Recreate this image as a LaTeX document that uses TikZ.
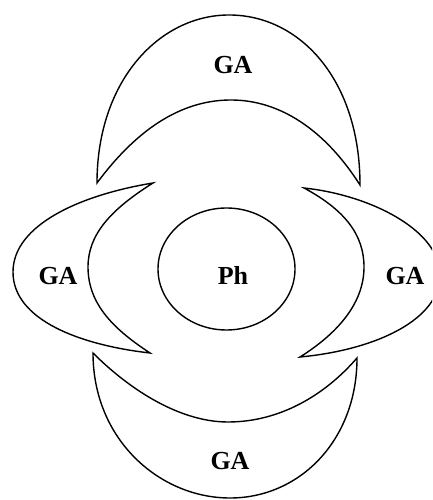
\documentclass[tikz,border=0pt]{standalone}
\usepackage{fontspec}
\setmainfont{Liberation Serif}
\usetikzlibrary{shapes.geometric}
\begin{document}
\begin{tikzpicture}[x=1pt,y=1pt,
  crescent/.style={draw=black,line width=1.4pt,line join=miter},
  lbl/.style={font=\fontsize{26}{30}\selectfont\bfseries,inner sep=0pt,text=black}]
\clip (0,0) rectangle (432,500);
% top crescent
\draw[crescent] (97,317) .. controls (97,420) and (160,485) .. (229,485)
  .. controls (300,485) and (360,420) .. (360,315)
  .. controls (325,370) and (280,400) .. (231,400)
  .. controls (185,400) and (140,375) .. (97,317) -- cycle;
% left crescent
\draw[crescent] (153,317) .. controls (80,305) and (13,275) .. (13,228)
  .. controls (13,180) and (80,155) .. (150,147)
  .. controls (115,170) and (88,195) .. (88,233)
  .. controls (88,265) and (110,290) .. (153,317) -- cycle;
% right crescent
\draw[crescent] (304,312) .. controls (370,305) and (440,270) .. (440,225)
  .. controls (440,180) and (375,150) .. (300,143)
  .. controls (335,165) and (364,195) .. (364,233)
  .. controls (364,265) and (345,290) .. (304,312) -- cycle;
% bottom crescent
\draw[crescent] (93,147) .. controls (93,60) and (160,2) .. (230,2)
  .. controls (300,2) and (357,60) .. (357,142)
  .. controls (325,105) and (280,78) .. (228,78)
  .. controls (180,78) and (130,110) .. (93,147) -- cycle;
% centre
\node[draw=black,line width=1.4pt,ellipse,minimum width=137pt,minimum height=122pt,inner sep=0pt] (ph) at (226.5,231) {};
\node[lbl] (phl) at (233,225) {Ph};
\node[lbl] (gat) at (233,435) {GA};
\node[lbl] (gal) at (58,224) {GA};
\node[lbl] (gar) at (405,224) {GA};
\node[lbl] (gab) at (230,39) {GA};
\end{tikzpicture}
\end{document}
